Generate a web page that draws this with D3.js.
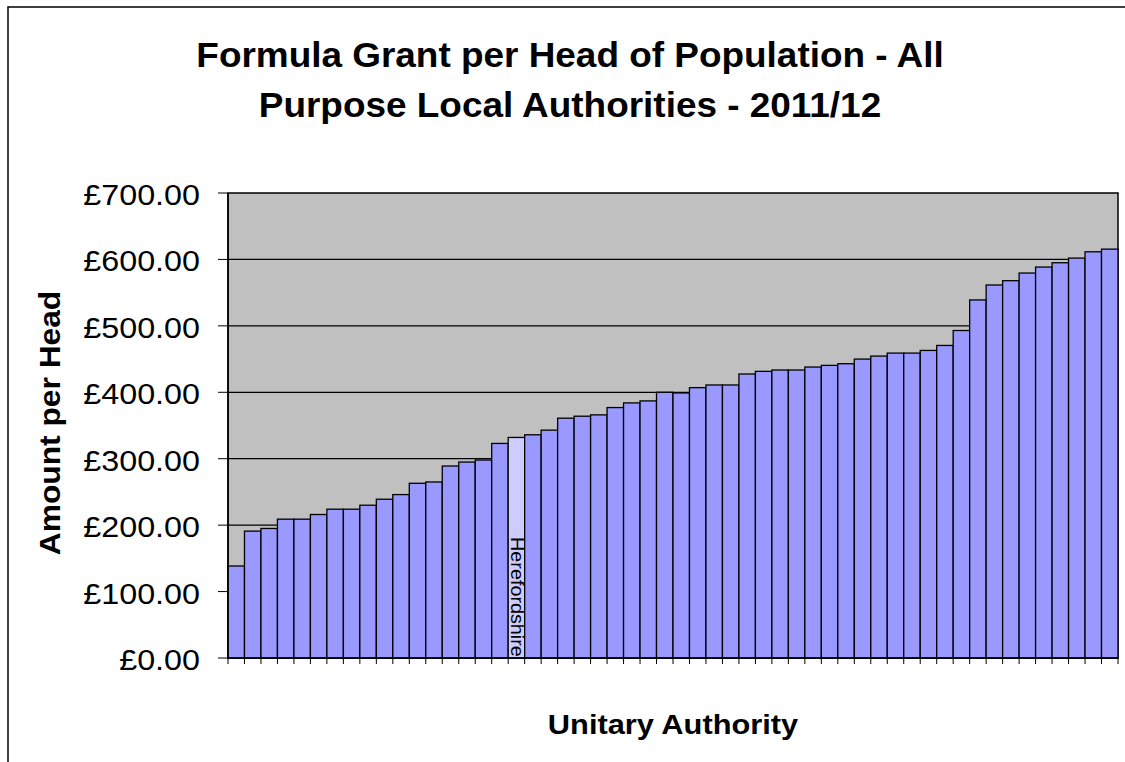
<!DOCTYPE html>
<html>
<head>
<meta charset="utf-8">
<script src="https://cdn.jsdelivr.net/npm/d3@7"></script>
<style>
  html, body { margin: 0; padding: 0; background: #fff; }
  svg { display: block; font-family: "Liberation Sans", Arial, sans-serif; }
</style>
</head>
<body>
<div id="chart"></div>
<script>
// amount per head (GBP), one per unitary authority, sorted ascending
var amounts = [138.5, 191, 195, 209, 209, 216, 224, 224, 230, 239, 246, 263, 265, 289, 295, 298, 323, 332,
  336, 343, 361, 364, 366, 377, 384, 387, 400, 399, 407, 411, 411, 427.5, 431.5, 433.5, 433.5, 438,
  440.5, 443, 450, 454.5, 459, 459, 463, 470.5, 493, 539, 561.5, 568, 579.5, 588.5, 595, 602, 611.5, 615.5];
var highlightName = "Herefordshire";
var highlightIndex = 17;
var yTicks = [0, 100, 200, 300, 400, 500, 600, 700];
var titleLines = ["Formula Grant per Head of Population - All", "Purpose Local Authorities - 2011/12"];

var W = 1125, H = 762;
var plot = {left: 228, right: 1118, top: 193, bottom: 658};
var sx = 1.08; // glyphs in the reference are a little wider than Arial

var svg = d3.select("#chart").append("svg")
    .attr("width", W)
    .attr("height", H);

// outer chart border
svg.append("rect")
    .attr("x", 8).attr("y", 7)
    .attr("width", W + 20).attr("height", H + 20)
    .attr("fill", "#fff")
    .attr("stroke", "#000")
    .attr("stroke-width", 1.5);

var x = d3.scaleBand()
    .domain(d3.range(amounts.length))
    .range([plot.left, plot.right])
    .padding(0);

var y = d3.scaleLinear()
    .domain([0, 700])
    .range([plot.bottom, plot.top]);

// plot background
svg.append("rect")
    .attr("x", plot.left).attr("y", plot.top)
    .attr("width", plot.right - plot.left)
    .attr("height", plot.bottom - plot.top)
    .attr("fill", "#c0c0c0")
    .attr("stroke", "#000")
    .attr("stroke-width", 1.5);

// gridlines
svg.append("g").selectAll("line")
    .data(yTicks.slice(1, -1))
    .enter().append("line")
    .attr("x1", plot.left).attr("x2", plot.right)
    .attr("y1", function(d) { return y(d); })
    .attr("y2", function(d) { return y(d); })
    .attr("stroke", "#000")
    .attr("stroke-width", 1.2);

// bars
svg.append("g").selectAll("rect")
    .data(amounts)
    .enter().append("rect")
    .attr("x", function(d, i) { return x(i); })
    .attr("y", function(d) { return y(d); })
    .attr("width", x.bandwidth())
    .attr("height", function(d) { return y(0) - y(d); })
    .attr("fill", function(d, i) { return i === highlightIndex ? "#ccccff" : "#9999ff"; })
    .attr("stroke", "#000")
    .attr("stroke-width", 1.3);

// x axis: ticks between categories
var xAxis = svg.append("g").attr("transform", "translate(0," + plot.bottom + ")");
xAxis.append("line")
    .attr("x1", plot.left).attr("x2", plot.right)
    .attr("stroke", "#000").attr("stroke-width", 1.5);
xAxis.selectAll(".tick")
    .data(d3.range(amounts.length + 1))
    .enter().append("line")
    .attr("class", "tick")
    .attr("x1", function(i) { return plot.left + i * x.step(); })
    .attr("x2", function(i) { return plot.left + i * x.step(); })
    .attr("y1", 0).attr("y2", 6)
    .attr("stroke", "#000").attr("stroke-width", 1);

// y axis
var yAxis = svg.append("g").attr("transform", "translate(" + plot.left + ",0)");
yAxis.append("line")
    .attr("y1", plot.top).attr("y2", plot.bottom)
    .attr("stroke", "#000").attr("stroke-width", 1.5);
var yt = yAxis.selectAll(".ytick")
    .data(yTicks)
    .enter().append("g")
    .attr("class", "ytick")
    .attr("transform", function(d) { return "translate(0," + y(d) + ")"; });
yt.append("line")
    .attr("x1", -10).attr("x2", 0)
    .attr("stroke", "#000").attr("stroke-width", 1);
yt.append("text")
    .attr("transform", "translate(-28,12) scale(" + sx + ",1)")
    .attr("text-anchor", "end")
    .attr("font-size", 29.9)
    .attr("fill", "#000")
    .text(function(d) { return "£" + d3.format(".2f")(d); });

// title
svg.append("g").selectAll("text")
    .data(titleLines)
    .enter().append("text")
    .attr("transform", function(d, i) { return "translate(570," + (67 + i * 50) + ") scale(" + sx + ",1)"; })
    .attr("text-anchor", "middle")
    .attr("font-size", 34.2)
    .attr("font-weight", "bold")
    .text(function(d) { return d; });

// axis titles
svg.append("text")
    .attr("transform", "translate(673,734) scale(1.1,1)")
    .attr("text-anchor", "middle")
    .attr("font-size", 28)
    .attr("font-weight", "bold")
    .text("Unitary Authority");

svg.append("text")
    .attr("transform", "translate(60,423) rotate(-90) scale(" + sx + ",1)")
    .attr("text-anchor", "middle")
    .attr("font-size", 29.4)
    .attr("font-weight", "bold")
    .text("Amount per Head");

// label inside highlighted bar
svg.append("text")
    .attr("transform", "translate(" + (x(highlightIndex) + 3) + ",537) rotate(90) scale(1.1,1)")
    .attr("text-anchor", "start")
    .attr("font-size", 18)
    .attr("fill", "#000")
    .text(highlightName);
</script>
</body>
</html>
